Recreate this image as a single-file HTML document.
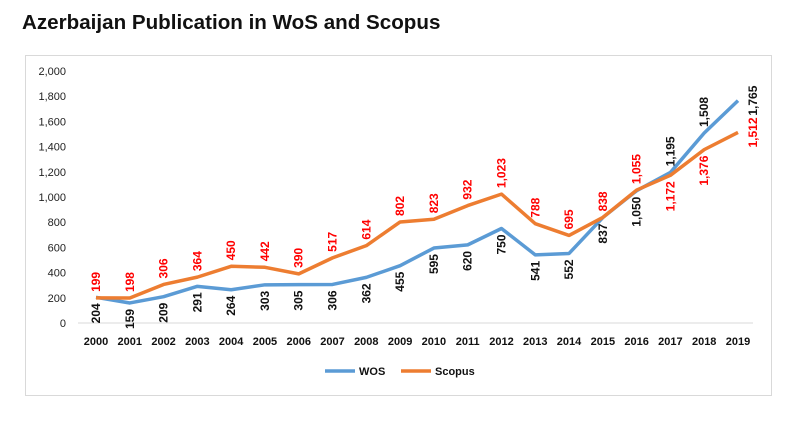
<!DOCTYPE html>
<html><head><meta charset="utf-8"><style>
body{margin:0;background:#fff;width:795px;height:428px;overflow:hidden;font-family:"Liberation Sans",Arial,sans-serif}
</style></head><body>
<svg width="795" height="428" xmlns="http://www.w3.org/2000/svg">
<text x="22" y="29" font-size="20.6" font-weight="bold" fill="#111">Azerbaijan Publication in WoS and Scopus</text>
<rect x="25.5" y="55.5" width="746" height="340" fill="none" stroke="#d9d9d9"/>
<g id="g"></g>
</svg>
<script>
const years=["2000","2001","2002","2003","2004","2005","2006","2007","2008","2009","2010","2011","2012","2013","2014","2015","2016","2017","2018","2019"];
const wos=[204,159,209,291,264,303,305,306,362,455,595,620,750,541,552,837,1050,1195,1508,1765];
const scopus=[199,198,306,364,450,442,390,517,614,802,823,932,1023,788,695,838,1055,1172,1376,1512];
const yTicks=[0,200,400,600,800,1000,1200,1400,1600,1800,2000];
const wosPos=["b","b","b","b","b","b","b","b","b","b","b","b","b","b","b","b","b","a","a","r"];
const scoPos=["a","a","a","a","a","a","a","a","a","a","a","a","a","a","a","a","a","b","b","r"];
const NS="http://www.w3.org/2000/svg",g=document.getElementById('g');
const x0=96,x1=738,yb=323,yt=71;
const X=i=>x0+(x1-x0)*i/(years.length-1);
const Y=v=>yb-(yb-yt)*v/2000;
const fmt=v=>v.toLocaleString('en-US');
function el(t,a){const e=document.createElementNS(NS,t);for(const k in a)e.setAttribute(k,a[k]);g.appendChild(e);return e;}
const base=el('line',{x1:78,x2:753,y1:yb,y2:yb,stroke:'#d9d9d9'});


yTicks.forEach(v=>{const t=el('text',{x:66,y:Y(v)+4,'text-anchor':'end','font-size':11,fill:'#222'});t.textContent=fmt(v);

});
years.forEach((yr,i)=>{const t=el('text',{x:X(i),y:345,'text-anchor':'middle','font-size':11,'font-weight':'bold',fill:'#111'});t.textContent=yr;

});
function series(vals,col,name){
 const p=el('polyline',{points:vals.map((v,i)=>X(i)+','+Y(v)).join(' '),fill:'none',stroke:col,'stroke-width':3.5,'stroke-linejoin':'round'});
 
 
}
series(wos,'#5b9bd5','wos');
series(scopus,'#ed7d31','scopus');
function labels(vals,pos,col,name){
 vals.forEach((v,i)=>{let x=X(i),y=Y(v),t;
  if(pos[i]==='r'){t=el('text',{transform:`translate(${x+19},${y}) rotate(-90)`,'text-anchor':'middle','font-size':12,'font-weight':'bold',fill:col});}
  else if(pos[i]==='a'){t=el('text',{transform:`translate(${x+4},${y-6}) rotate(-90)`,'text-anchor':'start','font-size':12,'font-weight':'bold',fill:col});}
  else{t=el('text',{transform:`translate(${x+4},${y+6}) rotate(-90)`,'text-anchor':'end','font-size':12,'font-weight':'bold',fill:col});}
  t.textContent=fmt(v);
  
  
 });
}
labels(wos,wosPos,'#111','wos');
labels(scopus,scoPos,'#ff0000','scopus');
const l1=el('line',{x1:325,x2:355,y1:371,y2:371,stroke:'#5b9bd5','stroke-width':3.5});


const t1=el('text',{x:359,y:375,'font-size':11,'font-weight':'bold',fill:'#111'});t1.textContent='WOS';


const l2=el('line',{x1:401,x2:431,y1:371,y2:371,stroke:'#ed7d31','stroke-width':3.5});


const t2=el('text',{x:435,y:375,'font-size':11,'font-weight':'bold',fill:'#111'});t2.textContent='Scopus';


</script>
</body></html>
